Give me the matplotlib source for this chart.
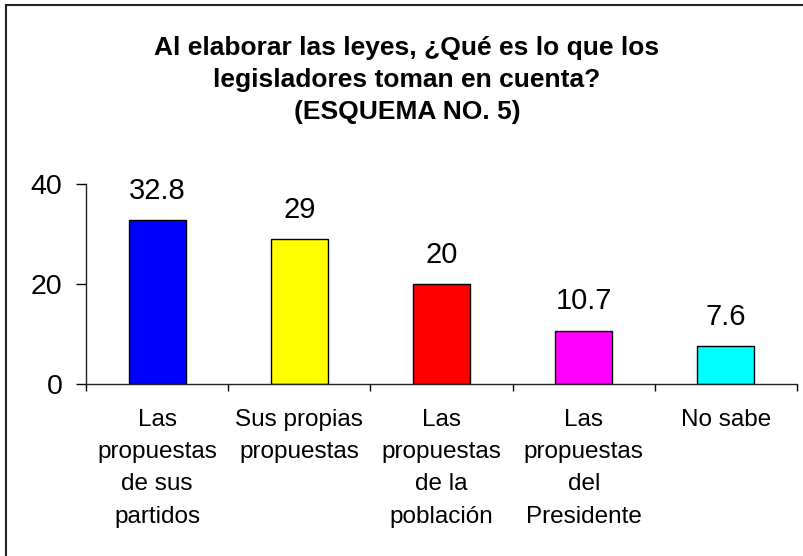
import numpy as np
import matplotlib.pyplot as plt
from matplotlib.patches import Rectangle

categories = ["Las\npropuestas\nde sus\npartidos",
              "Sus propias\npropuestas",
              "Las\npropuestas\nde la\npoblación",
              "Las\npropuestas\ndel\nPresidente",
              "No sabe"]
values = [32.8, 29, 20, 10.7, 7.6]
value_labels = ["32.8", "29", "20", "10.7", "7.6"]
colors = ["#0000ff", "#ffff00", "#ff0000", "#ff00ff", "#00ffff"]
title = "Al elaborar las leyes, ¿Qué es lo que los\nlegisladores toman en cuenta?\n(ESQUEMA NO. 5)"

plt.rcParams["font.family"] = ["Liberation Sans", "DejaVu Sans"]

W, H = 804, 556
fig = plt.figure(figsize=(W / 100, H / 100), dpi=100)
ax = fig.add_axes([86 / W, 1 - 384 / H, (797 - 86) / W, (384 - 184) / H])

x = np.arange(len(values))
ax.bar(x, values, width=0.4, color=colors, edgecolor="black", linewidth=1)

for xi, v, lab in zip(x, values, value_labels):
    ax.annotate(lab, (xi, v), xytext=(0, 11), textcoords="offset points",
                ha="center", va="bottom", fontsize=21)

ax.set_xlim(-0.5, len(values) - 0.5)
ax.set_ylim(0, 40)
ax.set_yticks([0, 20, 40])
ax.tick_params(axis="y", labelsize=20.5, length=7, width=1, pad=10)

ax.set_xticks(np.arange(len(values) + 1) - 0.5)
ax.set_xticklabels([])
ax.set_xticks(x, minor=True)
ax.set_xticklabels(categories, minor=True, fontsize=17.5, linespacing=1.6, va="top")
ax.tick_params(axis="x", which="major", length=5, width=1)
ax.tick_params(axis="x", which="minor", length=0, pad=18)

for s in ["top", "right"]:
    ax.spines[s].set_visible(False)
for s in ["left", "bottom"]:
    ax.spines[s].set_linewidth(1)
    ax.spines[s].set_color("#222222")

fig.text(407 / W, 1 - 36 / H, title, ha="center", va="top", fontsize=19,
         fontweight="bold", linespacing=1.42)

fig.patches.append(Rectangle((6 / W, -0.1), 1.2, 1 - 4.5 / H + 0.1,
                             transform=fig.transFigure, fill=False,
                             edgecolor="#222222", linewidth=1.5))

fig.savefig("out.png", dpi=100)
